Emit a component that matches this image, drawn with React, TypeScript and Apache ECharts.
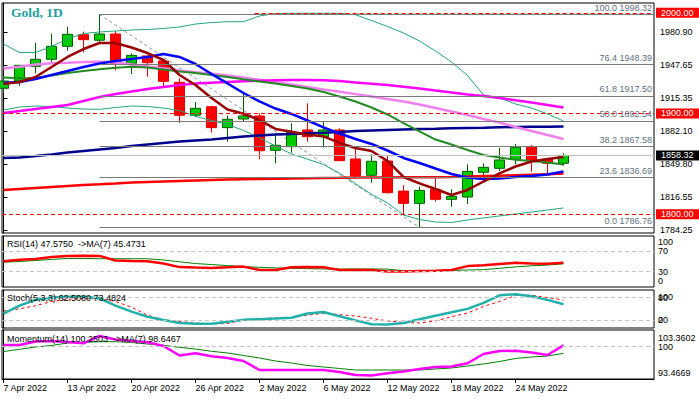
import React, { useEffect, useRef } from 'react';
import * as echarts from 'echarts';

const dates = ['7 Apr 2022','8 Apr 2022','11 Apr 2022','12 Apr 2022','13 Apr 2022','14 Apr 2022','18 Apr 2022','19 Apr 2022','20 Apr 2022','21 Apr 2022','22 Apr 2022','25 Apr 2022','26 Apr 2022','27 Apr 2022','28 Apr 2022','29 Apr 2022','2 May 2022','3 May 2022','4 May 2022','5 May 2022','6 May 2022','9 May 2022','10 May 2022','11 May 2022','12 May 2022','13 May 2022','16 May 2022','17 May 2022','18 May 2022','19 May 2022','20 May 2022','23 May 2022','24 May 2022','25 May 2022','26 May 2022','27 May 2022'];
const dateLabelIdx = [0, 4, 8, 12, 16, 20, 24, 28, 32];

// [open, close, low, high]
const ohlc = [
  [1925.0, 1932.2, 1920.3, 1937.2],
  [1932.2, 1947.8, 1927.3, 1948.1],
  [1946.8, 1953.8, 1939.9, 1970.3],
  [1953.8, 1966.7, 1949.8, 1979.2],
  [1966.7, 1978.6, 1962.3, 1986.2],
  [1978.2, 1973.3, 1960.7, 1981.2],
  [1972.7, 1978.9, 1970.3, 1998.32],
  [1978.9, 1949.8, 1942.9, 1981.9],
  [1949.8, 1957.7, 1939.2, 1959.7],
  [1957.1, 1950.4, 1936.5, 1957.8],
  [1952.1, 1931.9, 1925.3, 1953.0],
  [1930.9, 1898.2, 1890.8, 1934.9],
  [1898.2, 1905.1, 1896.2, 1911.4],
  [1906.7, 1885.9, 1880.9, 1907.7],
  [1885.9, 1894.2, 1871.9, 1897.8],
  [1894.5, 1897.5, 1891.8, 1920.0],
  [1897.5, 1863.0, 1854.5, 1900.1],
  [1863.4, 1868.4, 1850.5, 1879.6],
  [1867.0, 1881.3, 1861.0, 1890.2],
  [1883.6, 1876.9, 1872.0, 1910.1],
  [1876.9, 1883.6, 1866.0, 1892.2],
  [1883.6, 1853.1, 1852.5, 1885.3],
  [1854.8, 1837.9, 1835.6, 1866.4],
  [1838.6, 1852.5, 1831.2, 1859.4],
  [1852.8, 1821.3, 1820.5, 1858.5],
  [1822.9, 1810.7, 1800.1, 1828.9],
  [1810.7, 1823.6, 1786.76, 1827.3],
  [1824.7, 1814.7, 1812.4, 1835.6],
  [1814.7, 1817.7, 1807.4, 1824.7],
  [1817.0, 1842.5, 1809.9, 1849.5],
  [1841.6, 1846.5, 1833.2, 1850.5],
  [1845.5, 1853.8, 1842.9, 1865.7],
  [1854.5, 1866.4, 1849.5, 1869.7],
  [1867.0, 1853.1, 1842.2, 1868.7],
  [1854.5, 1850.5, 1840.6, 1855.0],
  [1850.5, 1858.32, 1848.1, 1860.5],
];

const maFast = [1929.3,1931.2,1936.2,1946.1,1956.1,1964.0,1970.0,1970.0,1965.5,1960.0,1953.1,1938.2,1928.3,1915.4,1903.9,1899.7,1893.5,1884.6,1881.8,1878.9,1877.3,1870.7,1865.7,1862.7,1852.8,1836.9,1830.6,1825.0,1819.0,1824.0,1832.4,1840.4,1847.3,1852.3,1854.8,1856.8];
const maBlue = [1930.3,1931.2,1934.2,1938.2,1942.2,1946.1,1949.6,1952.1,1954.1,1956.1,1959.1,1956.1,1949.1,1939.2,1929.8,1920.3,1911.9,1904.9,1899.5,1893.0,1886.1,1880.1,1874.6,1869.7,1863.2,1855.8,1850.8,1845.3,1839.9,1836.4,1834.9,1835.4,1836.9,1837.9,1839.4,1842.4];
const maGreen = [1935.7,1934.9,1935.2,1937.7,1940.2,1942.2,1943.9,1945.3,1946.3,1945.6,1943.7,1941.7,1940.2,1938.2,1936.2,1933.9,1931.7,1929.8,1927.3,1924.8,1921.3,1916.8,1911.9,1905.9,1899.0,1890.5,1882.1,1874.1,1869.2,1863.7,1858.7,1856.3,1854.0,1852.8,1851.3,1849.3];
const maNavy = [1855.8,1856.3,1857.7,1859.2,1861.2,1862.7,1864.2,1865.7,1867.7,1869.2,1870.7,1872.1,1873.1,1874.1,1875.6,1877.1,1878.1,1879.1,1879.6,1880.3,1880.9,1881.6,1882.6,1883.1,1883.6,1884.1,1884.6,1884.9,1885.3,1885.6,1885.9,1886.3,1886.5,1886.7,1886.8,1887.0];
const maRed = [1824.0,1825.0,1826.0,1827.0,1828.0,1828.9,1829.6,1830.4,1831.4,1831.9,1832.4,1832.9,1833.4,1833.9,1834.4,1834.7,1834.9,1835.2,1835.5,1835.7,1835.9,1836.1,1836.3,1836.4,1836.5,1836.6,1836.6,1836.7,1836.9,1837.4,1837.9,1838.2,1838.7,1839.2,1839.7,1840.4];
const maViolet = [1944.7,1946.4,1948.6,1949.8,1950.4,1951.1,1951.4,1950.6,1948.6,1946.6,1944.9,1942.7,1941.0,1939.4,1937.6,1935.6,1933.5,1931.0,1928.8,1926.3,1923.9,1921.6,1919.2,1916.8,1914.4,1911.9,1908.9,1905.4,1901.9,1898.5,1894.5,1891.0,1886.5,1882.6,1878.6,1874.6];
const maMagenta = [1900.5,1902.4,1904.4,1906.4,1908.4,1912.4,1916.3,1919.3,1921.8,1924.3,1926.3,1928.3,1929.8,1930.5,1931.2,1931.9,1932.5,1933.0,1933.2,1933.2,1933.0,1932.2,1930.7,1929.6,1928.3,1926.6,1924.8,1922.8,1920.8,1918.8,1917.3,1915.4,1913.1,1910.9,1908.4,1905.9];
const bbUpper = [1969.0,1960.5,1960.5,1966.5,1974.0,1979.4,1980.9,1981.9,1982.9,1983.4,1984.4,1985.9,1988.8,1990.3,1991.1,1991.1,1996.8,1999.3,1999.5,1999.5,1999.5,1999.5,1998.0,1992.3,1986.4,1979.9,1972.0,1962.0,1951.1,1937.7,1918.3,1915.4,1909.4,1905.4,1899.5,1892.5];
const bbLower = [1903.4,1906.4,1907.4,1906.9,1905.4,1904.4,1904.1,1905.9,1907.4,1906.9,1905.4,1902.9,1897.1,1893.1,1889.1,1883.1,1875.8,1867.7,1859.7,1854.6,1849.3,1840.6,1830.2,1819.7,1811.1,1799.1,1794.7,1792.2,1791.7,1794.2,1796.2,1798.2,1800.1,1802.1,1804.1,1806.1];

const fibLevels = [
  { ratio: '0.0', value: 1786.76 },
  { ratio: '23.6', value: 1836.69 },
  { ratio: '38.2', value: 1867.58 },
  { ratio: '50.0', value: 1892.54 },
  { ratio: '61.8', value: 1917.50 },
  { ratio: '76.4', value: 1948.39 },
  { ratio: '100.0', value: 1998.32 },
];
const fibAnchor = { startIdx: 6, high: 1998.32, endIdx: 26, low: 1786.76 };
const redLevels = [2000, 1900, 1800];
const lastPrice = 1858.32;
const priceTicks = [1784.25, 1816.55, 1849.80, 1882.10, 1915.35, 1947.65, 1980.90];

const rsi = [50.6,53.4,55,58.6,60.6,61.4,61,52,51,50.6,46,39,38,37.4,38.6,40,33.4,33.4,38.6,39,38.6,33.4,33.4,33.4,30.6,30.6,31.4,32,33.4,41,42.6,45,47.4,46,45.4,47.58];
const rsiMa = [48.6,50,52,54,56,56,55.4,55.4,55.4,55.4,53,49.4,46,44,42,40,38.6,37.5,36.6,36,35.4,35,35.4,35.4,35,32,32,32,32.4,33.4,34,36.6,39.4,41.6,43,45.47];
const rsiTicks = [0, 30, 70, 100];
const rsiLevels = [70, 30];

const stochMain = [38,58.7,74,80,82.2,82.2,78,58.7,43,29.7,20.8,13,10.9,10.9,16.7,21.4,23.3,24.7,27,38,42,31,20,9.8,9,13,22.8,32.4,41.3,50.4,66,86,89,83.6,74,62.5];
const stochSignal = [44.9,50.4,58.7,69.8,75.8,77.5,76.7,69.8,54.6,33.8,21.4,17.2,13.1,10.9,11.7,21.4,24.7,26.4,27.5,33.8,38.5,35.2,31.6,25.5,18.6,14.5,13.1,18.6,29.7,39.4,56.8,69.8,85.5,86.4,80,73.48];
const stochLevelTicks = [20, 80];
const stochEdgeTicks = [0, 100];
const stochLevels = [80, 20];

const momentum = [100.33,100.33,101.04,101.14,100.94,100.67,102.15,101.44,101.14,100.88,100.13,98.21,98.68,98.05,97.71,97.10,95.28,95.28,95.28,95.28,95.28,94.88,94.27,94.17,94.62,94.98,95.49,95.89,95.99,96.64,98.51,99.12,99.16,98.82,98.31,100.25];
const momentumMa = [99.02,99.46,99.93,100.23,100.74,100.88,101.0,101.0,100.84,100.53,100.27,99.87,99.52,99.06,98.72,98.21,97.71,97.10,96.70,96.19,95.89,95.59,95.28,95.28,95.28,95.28,95.28,95.49,95.69,96.09,96.50,97.0,97.61,97.91,98.11,98.65];
const momTicks = [93.4669, 100, 103.3602];
const momLevels = [100];

const FONT = 'Liberation Sans';
const X_MIN = -0.094;
const X_MAX = 40.656;

function buildOption() {
  const idx = (arr: number[]) => arr.map((v, i) => [i, v]);
  const line = (data: number[], color: string, width: number, gi: number, extra: any = {}) => ({
    type: 'line', data: idx(data), xAxisIndex: gi, yAxisIndex: gi, showSymbol: false, symbol: 'none',
    lineStyle: { color, width }, silent: true, z: 3, ...extra,
  });
  const dashedLevels = (levels: number[]) => ({
    symbol: ['none', 'none'], silent: true, label: { show: false },
    lineStyle: { color: '#c4c4c4', type: [4, 3], width: 1 },
    data: levels.map((v) => ({ yAxis: v })),
  });
  const gridDefs = [
    { top: 3, height: 230 },
    { top: 236, height: 51 },
    { top: 290, height: 38 },
    { top: 330, height: 49 },
  ];
  const grids = gridDefs.map((g) => ({ left: 2, width: 652, top: g.top, height: g.height, show: true, borderColor: '#000', borderWidth: 1, backgroundColor: '#fff' }));
  const xAxes = gridDefs.map((_, i) => ({
    type: 'value', gridIndex: i, min: X_MIN, max: X_MAX, position: 'bottom',
    splitLine: { show: false },
    axisLine: { show: i === 3, onZero: false, lineStyle: { color: '#000' } },
    axisTick: { show: i === 3, customValues: dateLabelIdx, length: 4, lineStyle: { color: '#000' } },
    axisLabel: {
      show: i === 3, customValues: dateLabelIdx, align: 'left', margin: 4, color: '#000', fontSize: 9, fontFamily: FONT,
      formatter: (v: number) => dates[Math.round(v)] || '',
    },
  }));
  const richEdge = (top: number, bottom: number) => ({
    hi: { padding: [top, 0, 0, 0], fontSize: 9, fontFamily: FONT, color: '#000' },
    lo: { padding: [0, 0, bottom, 0], fontSize: 9, fontFamily: FONT, color: '#000' },
  });
  const subAxis = (gi: number, min: number, max: number, ticks: number[], fmt: (v: number) => string, pt: number, pb: number, showLine = true) => ({
    type: 'value', gridIndex: gi, position: 'right', min, max,
    splitLine: { show: false },
    axisLine: { show: showLine, lineStyle: { color: '#000' } },
    axisTick: { show: false },
    axisLabel: {
      customValues: ticks, margin: 4, color: '#000', fontSize: 9, fontFamily: FONT,
      showMinLabel: true, showMaxLabel: true, hideOverlap: false,
      formatter: (v: number) => {
        const s = fmt(v);
        if (Math.abs(v - max) < 1e-6) return `{hi|${s}}`;
        if (Math.abs(v - min) < 1e-6) return `{lo|${s}}`;
        return s;
      },
      rich: richEdge(pt, pb),
    },
  });
  const yAxes = [
    {
      type: 'value', gridIndex: 0, position: 'right', min: 1781.27, max: 2009.70,
      splitLine: { show: false },
      axisLine: { show: true, lineStyle: { color: '#000' } },
      axisTick: { show: true, customValues: priceTicks, length: 4, lineStyle: { color: '#000' } },
      axisLabel: { customValues: priceTicks, margin: 6, color: '#000', fontSize: 9, fontFamily: FONT, showMinLabel: true, showMaxLabel: true, formatter: (v: number) => v.toFixed(2) },
    },
    subAxis(1, 0, 100, rsiTicks, (v) => String(v), 12, 12),
    subAxis(2, 0, 100, stochLevelTicks, (v) => String(v), 0, 0),
    subAxis(3, 93.4669, 103.3602, momTicks, (v) => (v === 100 ? '100' : v.toFixed(4)), 15, 13),
    subAxis(2, 0, 100, stochEdgeTicks, (v) => String(v), 14, 16, false),
  ];

  const levelMarks: any[] = [];
  fibLevels.forEach((f) => {
    levelMarks.push([
      {
        coord: [fibAnchor.startIdx, f.value],
        lineStyle: { color: '#7a7a7a', type: 'solid', width: 1 },
        label: { show: true, position: 'insideEndTop', distance: 2, formatter: `${f.ratio} ${f.value.toFixed(2)}`, color: '#5f7080', fontSize: 9, fontFamily: FONT },
      },
      { coord: [X_MAX, f.value] },
    ]);
  });
  redLevels.forEach((v) => {
    levelMarks.push([
      {
        coord: [v === 2000 ? 15.7 : X_MIN, v],
        lineStyle: { color: '#ff0000', type: [4, 3], width: 1 },
        label: { show: true, position: 'end', distance: 2, formatter: v.toFixed(2), color: '#fff', backgroundColor: '#ff0000', padding: [1, 7, 0, 5], fontSize: 9, fontFamily: FONT },
      },
      { coord: [X_MAX, v] },
    ]);
  });
  levelMarks.push([
    {
      coord: [X_MIN, lastPrice],
      lineStyle: { color: '#c0c0c0', type: 'solid', width: 1 },
      label: { show: true, position: 'end', distance: 2, formatter: lastPrice.toFixed(2), color: '#fff', backgroundColor: '#000', padding: [1, 7, 0, 5], fontSize: 9, fontFamily: FONT },
    },
    { coord: [X_MAX, lastPrice] },
  ]);

  const series: any[] = [
    {
      type: 'line', xAxisIndex: 0, yAxisIndex: 0, z: 1, silent: true, showSymbol: false, symbol: 'none',
      data: [[fibAnchor.startIdx, fibAnchor.high], [fibAnchor.endIdx, fibAnchor.low]],
      lineStyle: { color: '#8090a0', type: [3, 3], width: 1 },
      markLine: { symbol: ['none', 'none'], silent: true, data: levelMarks },
    },
    {
      type: 'candlestick', xAxisIndex: 0, yAxisIndex: 0, z: 2, silent: true, barWidth: 10,
      data: ohlc.map((d, i) => [i, d[0], d[1], d[2], d[3]]),
      itemStyle: { color: '#00cc00', color0: '#ff0000', borderColor: '#006000', borderColor0: '#e60000', borderWidth: 1 },
    },
    line(bbUpper, '#20a878', 1, 0),
    line(bbLower, '#20a878', 1, 0),
    line(maRed, '#ff0000', 2.5, 0),
    line(maNavy, '#000090', 2.5, 0),
    line(maViolet, '#f080f0', 2.5, 0),
    line(maMagenta, '#ff00ff', 2.5, 0),
    line(maGreen, '#228b22', 2, 0),
    line(maBlue, '#0000ff', 2.5, 0),
    line(maFast, '#990000', 2.5, 0),

    line(rsiMa, '#008000', 1, 1, { markLine: dashedLevels(rsiLevels) }),
    line(rsi, '#ff0000', 2.5, 1),

    line(stochSignal, '#ff0000', 1, 2, { lineStyle: { color: '#ff0000', width: 1, type: [3, 3] }, markLine: dashedLevels(stochLevels) }),
    line(stochMain, '#20b2aa', 2.5, 2),

    line(momentumMa, '#008000', 1, 3, { markLine: dashedLevels(momLevels) }),
    line(momentum, '#ff00ff', 2.5, 3),
  ];

  const txt = (left: number, top: number, text: string) => ({
    type: 'text', left, top, z: 100, silent: true,
    style: { text, font: `9px "${FONT}"`, fill: '#000' },
  });

  return {
    animation: false,
    backgroundColor: '#fff',
    textStyle: { fontFamily: FONT, fontSize: 9 },
    grid: grids,
    xAxis: xAxes,
    yAxis: yAxes,
    series,
    graphic: [
      { type: 'text', left: 11, top: 5, z: 100, silent: true, style: { text: 'Gold, 1D', font: 'bold 13.5px "Liberation Serif"', fill: '#1ea0a0' } },
      txt(7, 239, 'RSI(14) 47.5750  ->MA(7) 45.4731'),
      txt(7, 293, 'Stoch(5,3,3) 62.5080 73.4824'),
      txt(7, 334, 'Momentum(14) 100.2503  ->MA(7) 98.6467'),
    ],
  };
}

export default function App() {
  const ref = useRef<HTMLDivElement>(null);
  useEffect(() => {
    if (!ref.current) return;
    const chart = echarts.init(ref.current, undefined, { renderer: 'svg' });
    chart.setOption(buildOption() as any);
    return () => chart.dispose();
  }, []);
  return <div ref={ref} style={{ position: 'fixed', left: 0, top: 0, width: 699, height: 399, background: '#fff' }} />;
}
